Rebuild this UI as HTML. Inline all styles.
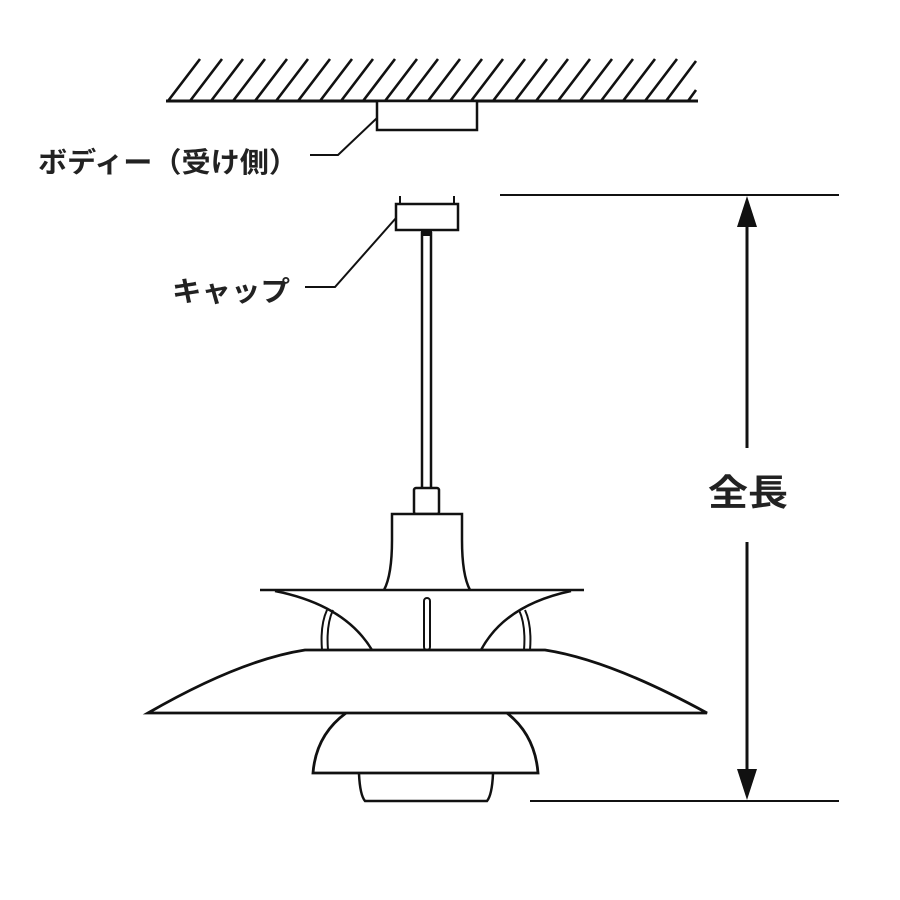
<!DOCTYPE html>
<html><head><meta charset="utf-8"><style>
html,body{margin:0;padding:0;background:#fff}
svg{display:block}
text{font-family:"Liberation Sans","Noto Sans CJK JP",sans-serif;font-weight:bold;fill:#222}
</style></head><body>
<svg width="900" height="900" viewBox="0 0 900 900" xmlns="http://www.w3.org/2000/svg">
<g stroke="#111" stroke-width="3" fill="none">
<line x1="166" y1="101" x2="698" y2="101"/>
<g stroke-width="2.6" id="h">
<path d="M168 101l32-42M190 101l32-42M211 101l32-42M233 101l32-42M255 101l32-42M276 101l32-42M298 101l32-42M320 101l32-42M341 101l32-42M363 101l32-42M385 101l32-42M406 101l32-42M428 101l32-42M450 101l32-42M471 101l32-42M493 101l32-42M515 101l32-42M536 101l32-42M558 101l32-42M580 101l32-42M601 101l32-42M623 101l32-42M645 101l32-42M666 101l30-40M688 101l8-11"/>
</g>
<rect x="377" y="101" width="100" height="29" stroke-width="2.5" fill="#fff"/>
<path d="M377 118 L338 155 L310 155" stroke-width="2"/>
<rect x="396" y="204" width="62" height="26" stroke-width="2.5"/>
<path d="M400 204V196M454 204V196" stroke-width="2"/>
<path d="M396 218 L335 287 L305 287" stroke-width="2"/>
<line x1="422" y1="232" x2="422" y2="488" stroke-width="2.5"/>
<line x1="431" y1="232" x2="431" y2="488" stroke-width="2.5"/>
<rect x="421" y="230" width="11" height="6" fill="#111" stroke="none"/>
<!-- lamp -->
<rect x="414" y="488" width="25" height="26" rx="2" stroke-width="2.5"/>
<path d="M384 590 Q392 575 392 540 V514 H462 V540 Q462 575 470 590" stroke-width="2.5" fill="#fff"/>
<line x1="260" y1="590" x2="584" y2="590" stroke-width="2.5"/>
<path d="M275 591 Q345 605 372 650" stroke-width="2.5"/>
<path d="M571 591 Q505 605 481 650" stroke-width="2.5"/>
<path d="M322 650 Q320 625 327 610 M328 650 Q326 625 333 610" stroke-width="2"/>
<path d="M524 650 Q526 625 519 610 M530 650 Q532 625 525 610" stroke-width="2"/>
<rect x="424" y="598" width="6" height="52" rx="3" stroke-width="2"/>
<path d="M148 713 Q240 660 305 650 H545 Q610 660 707 713 Z" stroke-width="2.8" fill="#fff"/>
<path d="M346 713 Q316 735 313 773 H538 Q535 735 507 713" stroke-width="2.8"/>
<path d="M359 774 Q360 795 365 801 H487 Q492 795 493 774" stroke-width="2.5"/>
<!-- dimension -->
<line x1="500" y1="195" x2="839" y2="195" stroke-width="2"/>
<line x1="530" y1="801" x2="839" y2="801" stroke-width="2"/>
<line x1="747" y1="225" x2="747" y2="448" stroke-width="3"/>
<line x1="747" y1="542" x2="747" y2="772" stroke-width="3"/>
</g>
<path d="M747 196 L737 227 L757 227 Z" fill="#111"/>
<path d="M747 800 L737 769 L757 769 Z" fill="#111"/>
<text x="38" y="172" font-size="28" textLength="260" lengthAdjust="spacingAndGlyphs">ボディー（受け側）</text>
<text x="172" y="301" font-size="28" textLength="118" lengthAdjust="spacingAndGlyphs">キャップ</text>
<text x="708" y="505" font-size="36" textLength="80" lengthAdjust="spacingAndGlyphs">全長</text>
</svg>
</body></html>
